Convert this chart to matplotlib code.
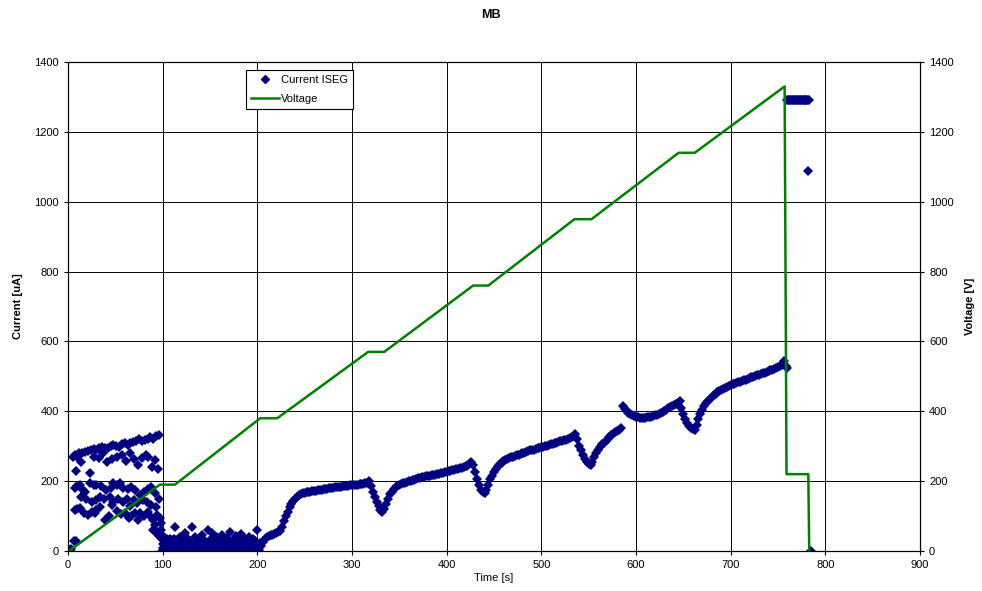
import matplotlib
matplotlib.use('Agg')
import matplotlib.pyplot as plt
from matplotlib.lines import Line2D

plt.rcParams['font.family'] = ['Liberation Sans', 'DejaVu Sans']

# voltage ramp (time [s], voltage [V])
volt_t = [1, 97, 113, 203, 221, 317, 334, 428, 444, 535, 553, 645, 662, 757, 759, 782, 783]
volt_v = [0, 190, 190, 380, 380, 570, 570, 760, 760, 950, 950, 1140, 1140, 1330, 220, 220, 0]

# current, noisy start-up part (0 - 100 s)
start_t = [0, 1, 2, 3, 6, 8,
           5, 7, 9, 12, 15, 18, 21, 24, 27, 30, 33, 36, 39, 42, 45, 48, 51, 54, 57, 60,
           63, 66, 69, 72, 75, 78, 81, 84, 87, 90, 93, 96,
           8, 14, 23, 27, 33, 37, 41, 46, 52, 57, 61, 66, 70, 74, 78, 82, 85, 89, 92, 95,
           7, 10, 13, 16, 18, 23, 27, 30, 35, 40, 45, 48, 52, 55, 58, 63, 67, 71, 76, 80,
           84, 88, 92,
           14, 19, 25, 30, 34, 38, 44, 48, 53, 58, 62, 66, 70, 73, 79, 83, 88, 93, 96,
           7, 10, 13, 17, 21, 25, 28, 30, 34, 39, 43, 47, 52, 56, 60, 64, 67, 71, 74, 76,
           80, 85, 87, 90, 94,
           90, 92, 93, 95]
start_i = [0, 3, 0, 5, 30, 28,
           270, 275, 270, 280, 282, 284, 287, 289, 292, 290, 294, 298, 296, 294, 300, 303,
           300, 298, 306, 308, 303, 310, 313, 315, 320, 316, 318, 322, 327, 320, 330, 332,
           228, 255, 222, 270, 265, 280, 256, 262, 270, 275, 258, 280, 262, 246, 266, 275,
           270, 241, 260, 235,
           179, 185, 189, 175, 170, 194, 190, 189, 185, 175, 180, 194, 188, 194, 180, 178,
           184, 175, 160, 170, 178, 182, 165,
           156, 150, 140, 146, 156, 148, 156, 141, 150, 141, 150, 130, 145, 137, 145, 140,
           132, 125, 150,
           117, 120, 122, 110, 103, 113, 110, 117, 127, 89, 100, 132, 115, 105, 110, 94,
           99, 110, 89, 108, 100, 113, 99, 90, 103,
           60, 75, 56, 45]

# current, low values after first step (97 - 204 s)
low_t = [97, 98, 98, 99, 99, 100, 100, 99, 101,
         101, 102, 103, 104, 105, 106, 107, 108, 109, 110, 111, 112, 113, 114, 115,
         104, 106, 108, 110, 112, 113, 114, 116, 117, 118, 119, 120, 121, 122, 123, 124,
         125, 126, 127, 128, 129, 130, 131, 132, 133, 134, 135, 136, 137, 138, 139, 140,
         141, 142, 143, 144, 145, 146, 147, 148, 149, 150, 151, 152, 153, 154, 155, 156,
         157, 158, 159, 160, 161, 162, 163, 164, 165, 166, 167, 168, 169, 170, 171, 172,
         173, 174, 175, 176, 177, 178, 179, 180, 181, 182, 183, 184, 185, 186, 187, 188,
         189, 190, 191, 192, 193, 194, 195, 196, 197, 198, 199, 200, 201, 202, 203]
low_i = [95, 80, 60, 45, 35, 20, 8, 0, 2,
         30, 28, 32, 30, 33, 29, 31, 34, 30, 32, 28, 35, 30, 32, 29,
         5, 12, 0, 8, 18, 69, 3, 22, 10, 40, 2, 15, 28, 6, 20, 51,
         0, 12, 35, 8, 25, 2, 69, 18, 10, 40, 4, 22, 14, 0, 30, 10,
         20, 45, 5, 16, 28, 2, 12, 60, 20, 6, 35, 51, 14, 0, 25, 10,
         40, 18, 4, 30, 12, 22, 45, 2, 16, 28, 8, 38, 20, 0, 54, 14,
         26, 6, 35, 18, 42, 10, 24, 2, 32, 15, 48, 8, 22, 38, 12, 0,
         28, 18, 40, 6, 25, 14, 35, 4, 20, 30, 10, 60, 16, 2, 24]

# current, continuous part, sampled every 2 s from 204 s to 760 s
curve_t = list(range(204, 761, 2))
curve_i = [15, 25, 35, 40, 42, 45, 47, 50, 52, 55,
           58, 68, 85, 100, 112, 125, 135, 143, 150, 156,
           160, 163, 165, 167, 168, 169, 170, 171, 172, 173,
           174, 175, 176, 177, 178, 178, 179, 180, 181, 182,
           183, 183, 184, 185, 185, 186, 187, 188, 188, 189,
           190, 190, 191, 192, 193, 194, 196, 200, 185, 170,
           155, 140, 128, 118, 113, 120, 135, 150, 162, 170,
           177, 182, 186, 190, 192, 194, 196, 198, 200, 201,
           203, 204, 206, 208, 209, 211, 212, 214, 215, 216,
           217, 218, 219, 220, 221, 222, 224, 225, 226, 228,
           229, 231, 232, 234, 235, 237, 238, 240, 242, 244,
           248, 255, 245, 225, 205, 188, 176, 170, 166, 175,
           190, 205, 216, 226, 235, 243, 248, 253, 257, 260,
           263, 266, 268, 270, 272, 274, 276, 278, 280, 282,
           284, 286, 288, 289, 290, 292, 294, 296, 298, 299,
           301, 302, 304, 305, 307, 308, 310, 312, 314, 316,
           318, 319, 321, 323, 326, 330, 335, 320, 300, 288,
           276, 264, 255, 249, 246, 255, 268, 280, 290, 298,
           305, 310, 316, 321, 326, 331, 336, 340, 344, 347,
           351,
           415, 407, 400, 395, 391, 388, 386, 384, 383, 382,
           382, 382, 382, 383, 384, 385, 386, 388, 390, 393,
           396, 399, 402, 405, 408, 411, 414, 417, 420, 424,
           430, 410, 392, 378, 367, 358, 352, 348, 346, 360,
           378, 393, 405, 415, 423, 430, 436, 441, 446, 450,
           454, 458, 461, 464, 467, 470, 472, 475, 477, 479,
           481, 483, 485, 487, 489, 491, 493, 495, 497, 499,
           501, 503, 505, 507, 509, 511, 513, 515, 517, 519,
           521, 524, 527, 530, 533, 545, 530, 524]

# current after the trip
end_t = list(range(760, 784)) + [782, 785]
end_i = [1290] * 24 + [1088, 0]

all_t = start_t + low_t + curve_t + end_t
all_i = start_i + low_i + curve_i + end_i

fig = plt.figure(figsize=(9.82, 5.91), dpi=100)
ax = fig.add_axes([68 / 982, 40 / 591, 852 / 982, 489 / 591])
ax2 = ax.twinx()

ax.set_axisbelow(True)
ax.grid(True, color='black', linewidth=0.7)
ax.plot(all_t, all_i, linestyle='none', marker='D', markersize=5.0,
        color='#000080', markeredgewidth=0)
ax2.plot(volt_t, volt_v, color='#008000', linewidth=1.8)

for a in (ax, ax2):
    a.set_xlim(0, 900)
    a.set_ylim(0, 1400)
    a.set_yticks(range(0, 1401, 200))
    a.tick_params(labelsize=8, length=3, width=0.8, direction='out')
    for s in a.spines.values():
        s.set_linewidth(0.8)
        s.set_color('black')
ax.set_xticks(range(0, 901, 100))

ax.set_xlabel('Time [s]', fontsize=8, labelpad=2)
ax.set_ylabel('Current [uA]', fontsize=8, fontweight='bold', labelpad=8)
ax2.set_ylabel('Voltage [V]', fontsize=8, fontweight='bold', labelpad=8)
fig.text(0.5, 1 - 15 / 591, 'MB', fontsize=9, fontweight='bold', ha='center', va='center')

handles = [Line2D([], [], linestyle='none', marker='D', markersize=4.5, color='#000080'),
           Line2D([], [], color='#008000', linewidth=1.8)]
leg = ax2.legend(handles, ['Current ISEG', 'Voltage'], loc='upper left',
                 bbox_to_anchor=(0.209, 0.983), fontsize=8, fancybox=False,
                 framealpha=1, edgecolor='black', borderpad=0.45, labelspacing=0.75,
                 handlelength=2.5, handletextpad=0.2, borderaxespad=0)
leg.get_frame().set_linewidth(0.8)

plt.savefig('out.png', dpi=100)
